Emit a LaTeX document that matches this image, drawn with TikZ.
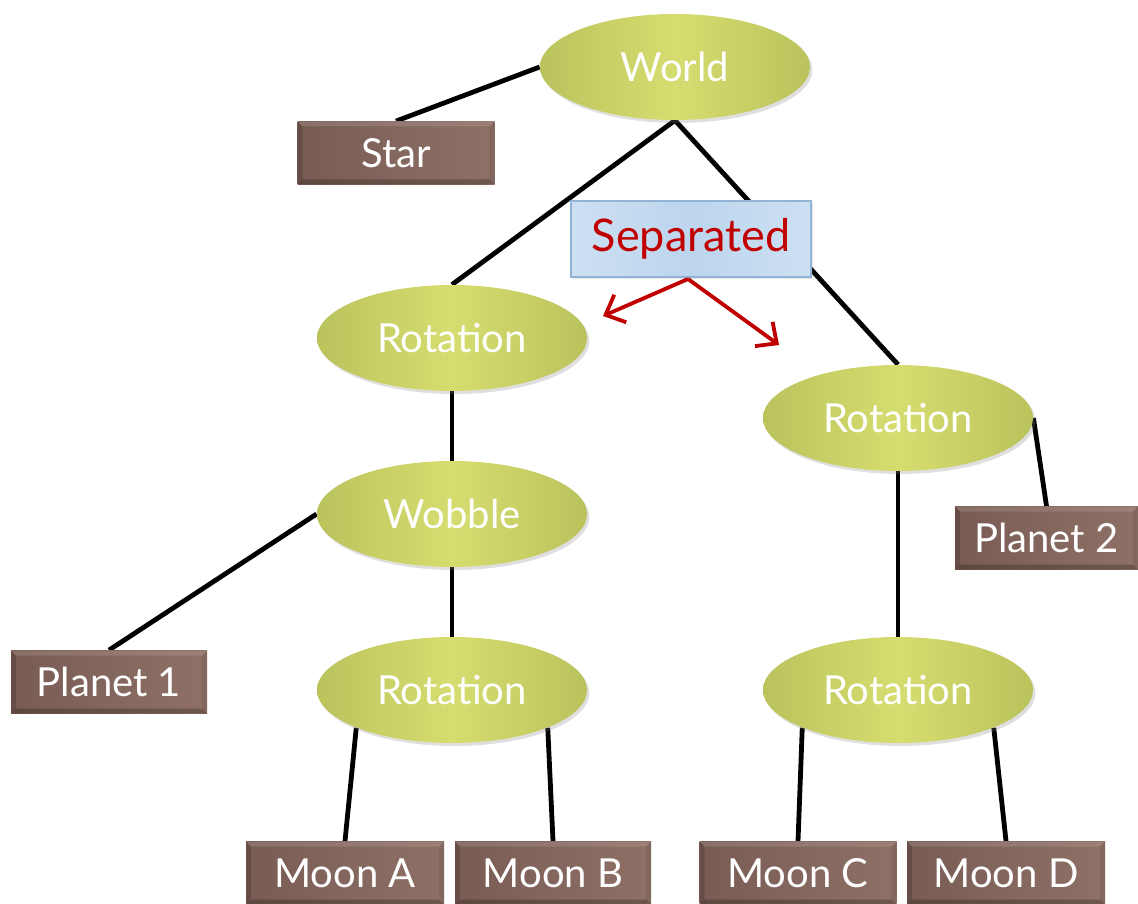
\documentclass[tikz,border=0pt]{standalone}
\usepackage{fontspec}
\setmainfont{Lato}
\usetikzlibrary{shapes.geometric,arrows.meta,shadows,backgrounds,calc}

\definecolor{ellEdge}{RGB}{186,195,92}
\definecolor{ellMid}{RGB}{214,221,112}
\definecolor{boxDark}{RGB}{120,92,84}
\definecolor{boxLight}{RGB}{142,112,102}
\definecolor{sepFill}{RGB}{188,213,237}
\definecolor{sepLight}{RGB}{205,224,243}
\definecolor{sepLine}{RGB}{148,180,214}
\definecolor{sepRed}{RGB}{192,0,0}

\tikzset{
  ell/.style={ellipse, minimum width=135pt, minimum height=53pt, inner sep=0pt,
    left color=ellEdge, right color=ellEdge, middle color=ellMid,
    text=white, font=\fontsize{20}{23}\selectfont,
    drop shadow={shadow xshift=1.2pt, shadow yshift=-1.5pt, opacity=0.25}},
  leaf/.style={rectangle, minimum height=31.5pt, inner sep=0pt,
    left color=boxDark, right color=boxLight,
    text=white, font=\fontsize{20}{23}\selectfont,
    path picture={
      \coordinate (nw) at (path picture bounding box.north west);
      \coordinate (ne) at (path picture bounding box.north east);
      \coordinate (sw) at (path picture bounding box.south west);
      \coordinate (se) at (path picture bounding box.south east);
      \fill[white,opacity=0.12] (nw) -- (ne) -- ($(ne)+(-2.5pt,-2.5pt)$) -- ($(nw)+(2.5pt,-2.5pt)$) -- cycle;
      \fill[black,opacity=0.22] (sw) -- (se) -- ($(se)+(-2.5pt,2.5pt)$) -- ($(sw)+(2.5pt,2.5pt)$) -- cycle;
      \fill[black,opacity=0.15] (nw) -- (sw) -- ($(sw)+(2.5pt,2.5pt)$) -- ($(nw)+(2.5pt,-2.5pt)$) -- cycle;
      \fill[black,opacity=0.08] (ne) -- (se) -- ($(se)+(-2.5pt,2.5pt)$) -- ($(ne)+(-2.5pt,-2.5pt)$) -- cycle;
    }},
  link/.style={draw=black, line width=2.4pt},
  splitarrow/.style={draw=sepRed, line width=1.9pt,
    -{Straight Barb[length=8pt,width=15pt,line width=1.9pt]}},
}

\begin{document}
\begin{tikzpicture}[x=0.5pt, y=-0.5pt]
\useasboundingbox (0,0) rectangle (1138,903);

% nodes of the hierarchy
\node[ell] (world) at (675,67) {World};
\node[leaf, minimum width=98.5pt] (star) at (396,153) {Star};
\node[ell] (rotL) at (452,338) {Rotation};
\node[ell] (wobble) at (452,514) {Wobble};
\node[leaf, minimum width=98pt] (planet1) at (109,682) {Planet 1};
\node[ell] (rotLL) at (452,690) {Rotation};
\node[leaf, minimum width=99pt] (moonA) at (345,873) {Moon A};
\node[leaf, minimum width=98pt] (moonB) at (553,873) {Moon B};
\node[ell] (rotR) at (898,418) {Rotation};
\node[leaf, minimum width=91.5pt] (planet2) at (1046.5,538) {Planet 2};
\node[ell] (rotRR) at (898,690) {Rotation};
\node[leaf, minimum width=98.5pt] (moonC) at (798,873) {Moon C};
\node[leaf, minimum width=99pt] (moonD) at (1006,873) {Moon D};

% callout box
\node[rectangle, minimum width=120pt, minimum height=38pt, inner sep=0pt,
      left color=sepLight, right color=sepLight, middle color=sepFill,
      draw=sepLine, line width=1pt, text=sepRed,
      font=\fontsize{22.5}{25}\selectfont,
      drop shadow={shadow xshift=1pt, shadow yshift=-1.2pt, opacity=0.2}]
      (sep) at (691,239) {Separated};

% connectors behind the nodes
\begin{scope}[on background layer]
  \draw[link] (star.north) -- (world.west);
  \draw[link] (world.south) -- (rotL.north);
  \draw[link] (world.south) -- (rotR.north);
  \draw[link] (rotL.south) -- (wobble.north);
  \draw[link] (wobble.west) -- (planet1.north);
  \draw[link] (wobble.south) -- (rotLL.north);
  \draw[link] (rotLL.south west) -- (moonA.north);
  \draw[link] (rotLL.south east) -- (moonB.north);
  \draw[link] (rotR.east) -- (planet2.north);
  \draw[link] (rotR.south) -- (rotRR.north);
  \draw[link] (rotRR.south west) -- (moonC.north);
  \draw[link] (rotRR.south east) -- (moonD.north);
\end{scope}

% split arrows below the callout
\coordinate (splitL) at (603,316);
\coordinate (splitR) at (779,345);
\draw[splitarrow] ($(sep.south)+(-3,1)$) -- (splitL);
\draw[splitarrow] ($(sep.south)+(-3,1)$) -- (splitR);
\end{tikzpicture}
\end{document}
